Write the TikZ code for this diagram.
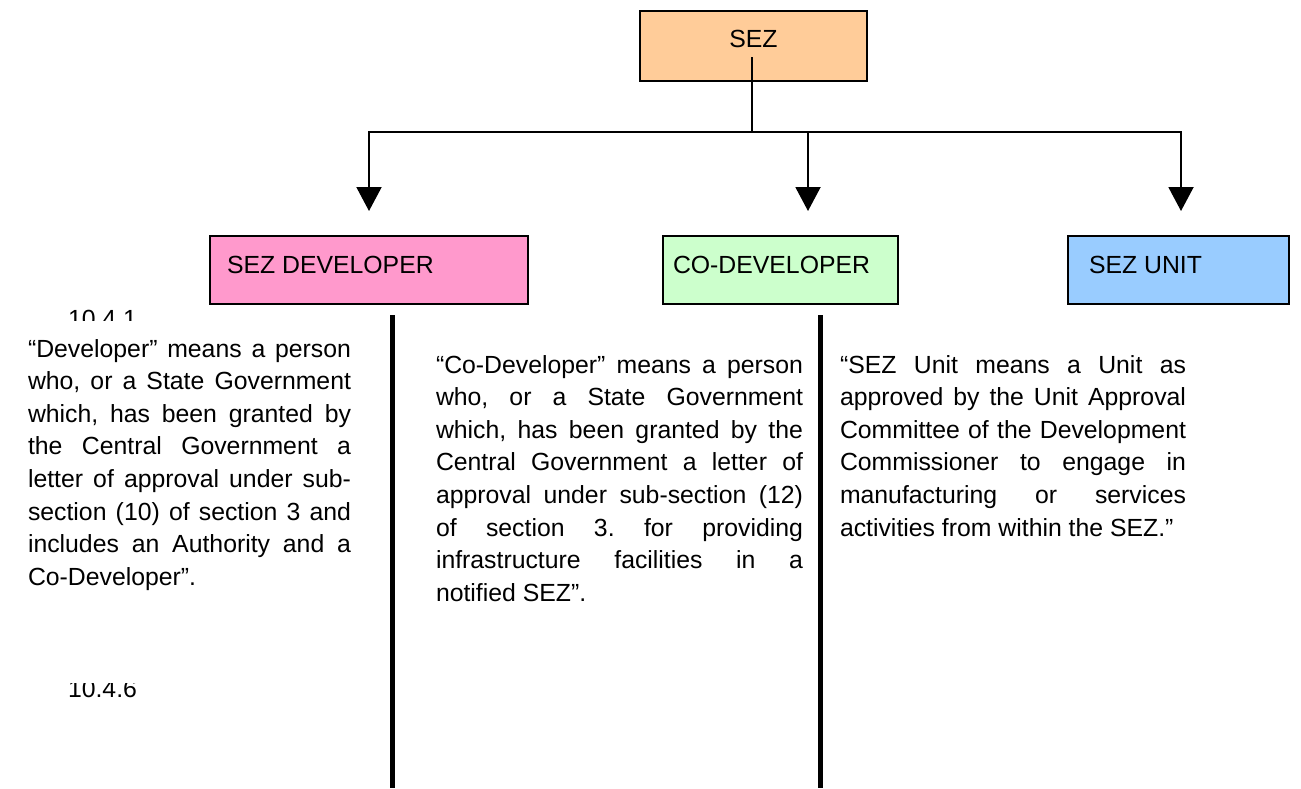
\documentclass[tikz,border=0pt]{standalone}
\usepackage{fontspec}
\setmainfont{Liberation Sans}
\usetikzlibrary{arrows.meta,positioning}
\definecolor{sezpeach}{HTML}{FFCC99}
\definecolor{sezpink}{HTML}{FF99CC}
\definecolor{sezgreen}{HTML}{CCFFCC}
\definecolor{sezblue}{HTML}{99CCFF}
\tolerance=10000 \hbadness=10000
\hyphenpenalty=10000 \exhyphenpenalty=10000
\frenchspacing

\begin{document}
\begin{tikzpicture}[x=0.5pt, y=-0.5pt, line width=1pt, node font=\fontsize{12.4}{16.3}\selectfont,
	box/.style={draw, line width=1pt, inner sep=0pt, minimum height=34pt, anchor=north west},
	lbl/.style={inner sep=0pt, anchor=base west},
	deftext/.style={inner sep=0pt, anchor=base west, align=justify},
	divider/.style={line width=2.5pt},
	arrow/.style={-{Triangle[width=12.5pt,length=12pt]}}]
	\useasboundingbox (0,0) rectangle (1301,788);
			% boxes
			\node[box, fill=sezpeach, minimum width=113.5pt, minimum height=35pt] (sez) at (639,10) {};
			\node[inner sep=0pt, anchor=base] (sezlbl) at ([shift={(0,37)}]sez.north) {SEZ};
			\node[box, fill=sezpink, minimum width=159pt] (dev) at (209,235) {};
			\node[lbl] (devlbl) at ([shift={(17,38)}]dev.north west) {SEZ DEVELOPER};
			\node[box, fill=sezgreen, minimum width=117.5pt] (codev) at (662,235) {};
			\node[lbl] (codevlbl) at ([shift={(10,38)}]codev.north west) {CO-DEVELOPER};
			\node[box, fill=sezblue, minimum width=110.5pt] (unit) at (1067,235) {};
			\node[lbl] (unitlbl) at ([shift={(21,38)}]unit.north west) {SEZ UNIT};
			% connectors
			\coordinate (stem) at (752,57);
			\coordinate (hub) at (752,132);
			\coordinate (tipdev) at (369,211);
			\coordinate (tipco) at (808,211);
			\coordinate (tipunit) at (1181,211);
			\draw (stem) -- (hub);
			\draw[arrow] (hub) -| (tipdev);
			\draw[arrow] (hub) -| (tipco);
			\draw[arrow] (hub) -| (tipunit);
			% paragraph numbers, partly hidden
			\node[lbl] (num1) at (67,327) {10.4.1};
			\node[lbl] (num6) at (67,697) {10.4.6};
			\fill[white] (20,321) rectangle (385,683);
			% dividers
			\draw[divider] (392,315) -- (392,788);
			\draw[divider] (820,315) -- (820,788);
			% definitions
			\node[deftext, text width=161.5pt] (devdef) at (27,357) {“Developer” means a person\linebreak
				who, or a State Government\linebreak
				which, has been granted by\linebreak
				the Central Government a\linebreak
				letter of approval under sub-\linebreak
				section (10) of section 3 and\linebreak
				includes an Authority and a\linebreak
				Co-Developer”.};
			\node[deftext, text width=183.5pt] (codevdef) at (435,373) {“Co-Developer” means a person\linebreak
				who, or a State Government\linebreak
				which, has been granted by the\linebreak
				Central Government a letter of\linebreak
				approval under sub-section (12)\linebreak
				of section 3. for providing\linebreak
				infrastructure facilities in a\linebreak
				notified SEZ”.};
			\node[deftext, text width=173pt] (unitdef) at (839,373) {“SEZ Unit means a Unit as\linebreak
				approved by the Unit Approval\linebreak
				Committee of the Development\linebreak
				Commissioner to engage in\linebreak
				manufacturing or services\linebreak
				activities from within the SEZ.”};
		\end{tikzpicture}
\end{document}
